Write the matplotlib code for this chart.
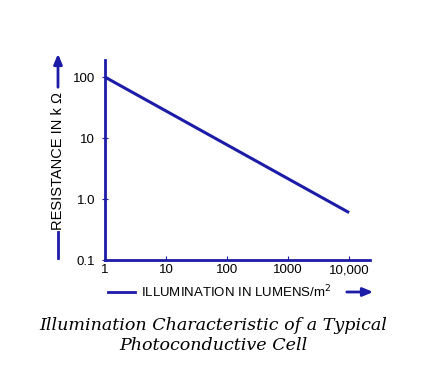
import numpy as np
import matplotlib.pyplot as plt
from matplotlib.ticker import FixedLocator, NullLocator

illum = [1, 10000]
resist = [100, 0.6]
xticks = [1, 10, 100, 1000, 10000]
xlabels = ['1', '10', '100', '1000', '10,000']
yticks = [0.1, 1, 10, 100]
ylabels = ['0.1', '1.0', '10', '100']

blue = '#1c1ca8'
plt.rcParams['font.family'] = ['Liberation Sans', 'DejaVu Sans']

fig = plt.figure(figsize=(4.26, 3.78), dpi=100)
ax = fig.add_axes([0.2465, 0.312, 0.622, 0.529])

ax.plot(illum, resist, color=blue, lw=2.2, solid_capstyle='butt')
ax.set_xscale('log')
ax.set_yscale('log')
ax.set_xlim(1, 22000)
ax.set_ylim(0.1, 190)

ax.xaxis.set_major_locator(FixedLocator(xticks))
ax.yaxis.set_major_locator(FixedLocator(yticks))
ax.xaxis.set_minor_locator(NullLocator())
ax.yaxis.set_minor_locator(NullLocator())
ax.set_xticklabels(xlabels)
ax.set_yticklabels(ylabels)
ax.tick_params(axis='x', direction='in', length=3, color=blue, labelsize=9.5, pad=3)
ax.tick_params(axis='y', direction='inout', length=4, color=blue, labelsize=9.5, pad=5)

for s in ['top', 'right']:
    ax.spines[s].set_visible(False)
for s in ['left', 'bottom']:
    ax.spines[s].set_color(blue)
    ax.spines[s].set_linewidth(2)

arrow = dict(arrowstyle='-|>,head_length=0.6,head_width=0.25', color=blue, lw=2)

# y axis label with arrow
fig.text(58 / 426, 1 - 161 / 378, 'RESISTANCE IN k \u03a9', rotation=90,
         ha='center', va='center', fontsize=10.5)
fig.add_artist(plt.Line2D([58 / 426, 58 / 426], [1 - 258 / 378, 1 - 232 / 378],
                          color=blue, lw=2))
ax.annotate('', xy=(58 / 426, 1 - 51 / 378), xytext=(58 / 426, 1 - 90 / 378),
            xycoords='figure fraction', textcoords='figure fraction',
            arrowprops=arrow)

# x axis label with arrow
fig.text(236 / 426, 1 - 292 / 378, 'ILLUMINATION IN LUMENS/m$^2$',
         ha='center', va='center', fontsize=9.5)
fig.add_artist(plt.Line2D([108 / 426, 135 / 426], [1 - 292 / 378, 1 - 292 / 378],
                          color=blue, lw=2))
ax.annotate('', xy=(376 / 426, 1 - 292 / 378), xytext=(344 / 426, 1 - 292 / 378),
            xycoords='figure fraction', textcoords='figure fraction',
            arrowprops=arrow)

# caption
fig.text(213 / 426, 1 - 325 / 378, 'Illumination Characteristic of a Typical',
         ha='center', va='center', fontsize=12.6, style='italic', family='DejaVu Serif')
fig.text(213 / 426, 1 - 346 / 378, 'Photoconductive Cell',
         ha='center', va='center', fontsize=12.6, style='italic', family='DejaVu Serif')

fig.savefig('out.png', dpi=100)
